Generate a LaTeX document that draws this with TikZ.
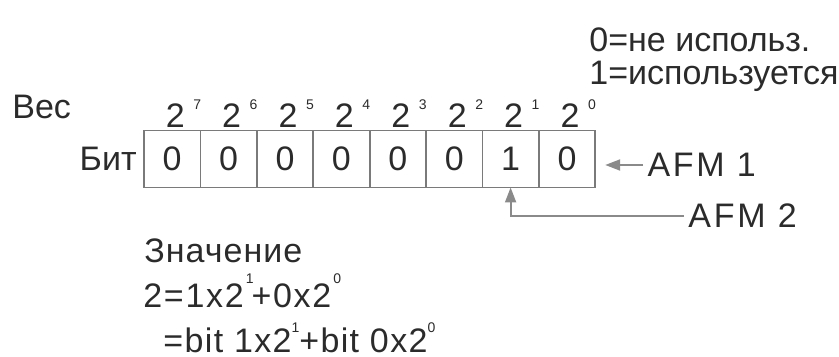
\documentclass[tikz,border=0pt]{standalone}
\usepackage{fontspec}
\setmainfont{Liberation Sans}
\usetikzlibrary{positioning,arrows.meta}
\definecolor{bitGrisLinea}{HTML}{7A7A7A}
\definecolor{bitGrisTexto}{HTML}{2B2B2B}
\definecolor{bitGrisFlecha}{HTML}{8A8A8A}
\newcommand{\pw}[2][9pt]{\raisebox{#1}{\fontsize{7}{7}\selectfont #2}}
\newcommand{\peso}[1]{2\kern4.3pt\pw{#1}}

\begin{document}
\begin{tikzpicture}[
  x=0.5pt, y=-0.5pt,
  font=\fontsize{17}{20}\selectfont,
  text=bitGrisTexto,
  node distance=0pt,
  >={Triangle[length=7.5pt,width=5.5pt]},
  bitcell/.style={
    rectangle, draw=bitGrisLinea, line width=0.9pt,
    minimum width=28.2pt, minimum height=28.5pt,
    inner sep=0pt, outer sep=0pt
  },
  peso/.style={inner sep=0pt, xshift=5.6pt},
  etiqueta/.style={inner sep=0pt},
  ancha/.style={etiqueta, font=\fontsize{17}{20}\selectfont\addfontfeature{LetterSpace=#1}},
  flecha/.style={->, draw=bitGrisFlecha, line width=1pt}
]
  \useasboundingbox (0,0) rectangle (839,357);

  % Leyenda
  \node[etiqueta, anchor=base west] (leg0) at (589,52) {0=не использ.};
  \node[etiqueta, anchor=base west] (leg1) at (589,85) {1=используется};

  % Registro de bits
  \node[bitcell] (b7) at (172.2,159) {0};
  \node[bitcell, right=of b7] (b6) {0};
  \node[bitcell, right=of b6] (b5) {0};
  \node[bitcell, right=of b5] (b4) {0};
  \node[bitcell, right=of b4] (b3) {0};
  \node[bitcell, right=of b3] (b2) {0};
  \node[bitcell, right=of b2] (b1) {1};
  \node[bitcell, right=of b1] (b0) {0};
  \node[etiqueta, left=3.5pt of b7] (bit) {Бит};
  \node[etiqueta, anchor=base west] (ves) at (12,119) {Вес};

  % Pesos
  \node[peso, above=1.5pt of b7] (w7) {\peso{7}};
  \node[peso, above=1.5pt of b6] (w6) {\peso{6}};
  \node[peso, above=1.5pt of b5] (w5) {\peso{5}};
  \node[peso, above=1.5pt of b4] (w4) {\peso{4}};
  \node[peso, above=1.5pt of b3] (w3) {\peso{3}};
  \node[peso, above=1.5pt of b2] (w2) {\peso{2}};
  \node[peso, above=1.5pt of b1] (w1) {\peso{1}};
  \node[peso, above=1.5pt of b0] (w0) {\peso{0}};

  % AFM
  \node[ancha=8, right=26pt of b0, yshift=-3pt] (afm1) {AFM 1};
  \node[ancha=8, anchor=base west] (afm2) at (688,228) {AFM 2};
  \draw[flecha, shorten <=2pt, shorten >=5pt] (afm1.west) -- (afm1.west -| b0.east);
  \draw[flecha, shorten <=2pt] (afm2.west) -| (b1.south);

  % Valor
  \node[ancha=3, anchor=base west] (valor) at (144,263) {Значение};
  \node[ancha=5, anchor=base west] (ec1) at (143,307) {2=1x2\kern1pt\pw[12pt]{1}\kern-1pt+0x2\kern1pt\pw[12pt]{0}};
  \node[ancha=4, anchor=base west] (ec2) at (163,352) {=bit 1x2\pw[10pt]{1}+bit 0x2\pw[10pt]{0}};
\end{tikzpicture}
\end{document}
